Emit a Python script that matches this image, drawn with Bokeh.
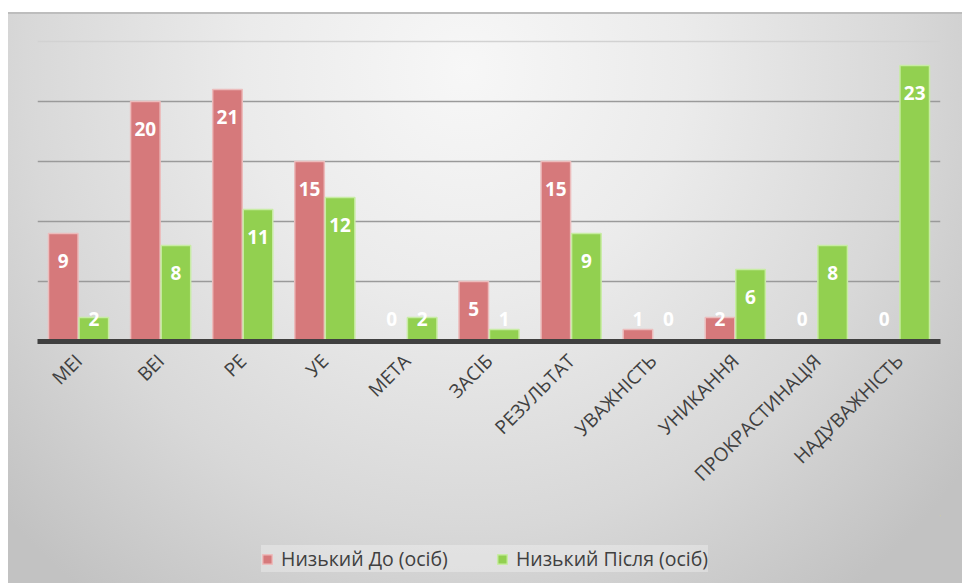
import math

from bokeh.core.properties import value
from bokeh.embed import file_html
from bokeh.layouts import column
from bokeh.models import (ColumnDataSource, FactorRange, FixedTicker, Grid,
                          LabelSet, Legend, LegendItem, Range1d)
from bokeh.plotting import figure
from bokeh.resources import INLINE
from bokeh.transform import dodge

# Scales and their results (number of people with a low level)
categories = ["МЕІ", "ВЕІ", "РЕ", "УЕ", "МЕТА", "ЗАСІБ", "РЕЗУЛЬТАТ",
              "УВАЖНІСТЬ", "УНИКАННЯ", "ПРОКРАСТИНАЦІЯ", "НАДУВАЖНІСТЬ"]
low_before = [9, 20, 21, 15, 0, 5, 15, 1, 2, 0, 0]
low_after = [2, 8, 11, 12, 2, 1, 9, 0, 6, 8, 23]
series_names = ["Низький До (осіб)", "Низький Після (осіб)"]

RED = "#d6797b"
RED_EDGE = "#ecbcbc"
GREEN = "#92d050"
GREEN_EDGE = "#c8eca4"
FONT = "Open Sans"


def label_pos(v):
    # value label sits just inside the bar top, but never below a minimum height
    return max(v - 2.25, 1.9)


src = ColumnDataSource(dict(
    cat=categories,
    before=low_before,
    after=low_after,
    before_txt=[str(v) for v in low_before],
    after_txt=[str(v) for v in low_after],
    before_y=[label_pos(v) for v in low_before],
    after_y=[label_pos(v) for v in low_after],
))

p = figure(x_range=FactorRange(*categories), y_range=Range1d(0, 26.5),
           width=954, height=503, output_backend="svg", toolbar_location=None,
           min_border_left=29, min_border_right=22, min_border_top=11,
           min_border_bottom=174)
p.background_fill_alpha = 0
p.border_fill_alpha = 0
p.outline_line_color = None

off = 0.186
bw = 0.36
p.vbar(x=dodge("cat", -off, range=p.x_range), top="before", width=bw,
       source=src, fill_color=RED, line_color=RED_EDGE, line_width=1.5)
p.vbar(x=dodge("cat", off, range=p.x_range), top="after", width=bw,
       source=src, fill_color=GREEN, line_color=GREEN_EDGE, line_width=1.5)

for xf, yf, tf in ((-off, "before_y", "before_txt"), (off, "after_y", "after_txt")):
    p.add_layout(LabelSet(x=dodge("cat", xf, range=p.x_range), y=yf, text=tf, source=src,
                          text_align="center", text_baseline="middle",
                          text_color="white", text_font=value(FONT),
                          text_font_style="bold", text_font_size="19px"))

# grid lines every 5 units, the top one fainter
p.xgrid.visible = False
p.ygrid.ticker = FixedTicker(ticks=[5, 10, 15, 20])
p.ygrid.grid_line_color = "#9a9a9a"
p.ygrid.grid_line_width = 1.5
p.add_layout(Grid(dimension=1, ticker=FixedTicker(ticks=[25]),
                  grid_line_color="#d2d2d2", grid_line_width=1.5))

p.yaxis.visible = False
ax = p.xaxis[0]
ax.axis_line_color = "#404040"
ax.axis_line_width = 5
ax.major_tick_line_color = None
ax.minor_tick_line_color = None
ax.major_label_orientation = math.pi / 4
ax.major_label_standoff = 10
ax.major_label_text_font = FONT
ax.major_label_text_font_size = "19px"
ax.major_label_text_color = "#404040"

# legend strip under the chart; its swatch renderers sit outside the visible range
pl = figure(x_range=Range1d(0, 1), y_range=Range1d(0, 1), width=954, height=68,
            output_backend="svg", toolbar_location=None,
            x_axis_location=None, y_axis_location=None,
            min_border=0, min_border_left=0, min_border_right=0,
            min_border_top=0, min_border_bottom=0)
pl.background_fill_alpha = 0
pl.border_fill_alpha = 0
pl.outline_line_color = None
pl.grid.visible = False
sw_before = pl.vbar(x=[5], top=[5], bottom=[4], width=0.1,
                    fill_color=RED, line_color=RED_EDGE, line_width=1.5)
sw_after = pl.vbar(x=[6], top=[5], bottom=[4], width=0.1,
                   fill_color=GREEN, line_color=GREEN_EDGE, line_width=1.5)

legend = Legend(items=[LegendItem(label=series_names[0], renderers=[sw_before]),
                       LegendItem(label=series_names[1], renderers=[sw_after])],
                location=(224, 11), orientation="horizontal",
                background_fill_color="white", background_fill_alpha=0.3,
                border_line_color=None, padding=10, spacing=48, margin=0,
                glyph_width=12, glyph_height=12, label_standoff=8,
                label_text_font=FONT, label_text_font_size="19.5px",
                label_text_color="#404040")
pl.add_layout(legend)

chart = column(p, pl, spacing=0)
chart.margin = (12, 0, 0, 8)
chart.styles = {
    "background": "linear-gradient(#bdbdbd, #bdbdbd) top left / 100% 2px no-repeat, "
                  "radial-gradient(ellipse 66% 115% at 48% 10%, #f7f7f7 0%, #ebebeb 35%, "
                  "#d8d8d8 70%, #c2c2c2 100%)"
}

open("out.html", "w").write(file_html(chart, INLINE))
